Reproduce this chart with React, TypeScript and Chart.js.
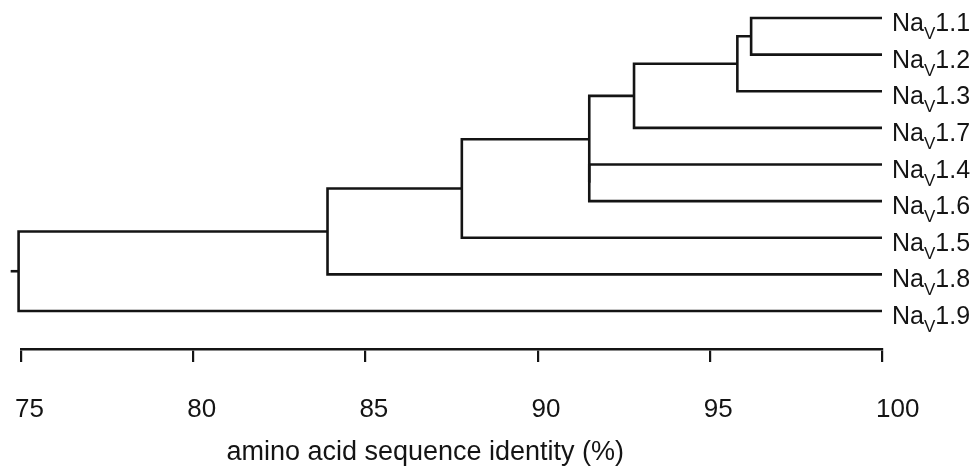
import React, { useEffect, useRef } from "react";
import { Chart, registerables } from "chart.js";

Chart.register(...registerables);

// Leaves, top to bottom
const leafNames = ["1.1", "1.2", "1.3", "1.7", "1.4", "1.6", "1.5", "1.8", "1.9"];
// Merge table (hclust style): negative = leaf (1-based), positive = earlier merge (1-based)
const mergeA = [-1, 1, 2, -5, 3, 5, 6, 7];
const mergeB = [-2, -3, -4, -6, 4, -7, -8, -9];
// Identity (%) at which each merge happens
const mergeHeight = [96.2, 95.8, 92.8, 91.5, 91.5, 87.8, 83.9, 74.93];
const leafIdentity = 100;
const rootStubStart = 74.7;
const axisMin = 75;
const axisMax = 100;
const axisStep = 5;
const axisTitle = "amino acid sequence identity (%)";

const INK = "#141414";
const FONT = "'Liberation Sans', Arial, Helvetica, sans-serif";

function buildDatasets() {
  const mergeY: number[] = [];
  const nodeY = (id: number) => (id < 0 ? -id - 1 : mergeY[id - 1]);
  const nodeX = (id: number) => (id < 0 ? leafIdentity : mergeHeight[id - 1]);
  const sets: any[] = [];
  for (let i = 0; i < mergeA.length; i++) {
    const a = mergeA[i];
    const b = mergeB[i];
    const h = mergeHeight[i];
    const ya = nodeY(a);
    const yb = nodeY(b);
    mergeY.push((ya + yb) / 2);
    sets.push({
      data: [
        { x: nodeX(a), y: ya },
        { x: h, y: ya },
        { x: h, y: yb },
        { x: nodeX(b), y: yb },
      ],
    });
  }
  const rootY = mergeY[mergeY.length - 1];
  sets.push({
    data: [
      { x: rootStubStart, y: rootY },
      { x: mergeHeight[mergeHeight.length - 1], y: rootY },
    ],
  });
  return sets.map((s) => ({
    ...s,
    showLine: true,
    borderColor: INK,
    borderWidth: 2.6,
    pointRadius: 0,
    tension: 0,
    borderJoinStyle: "miter",
    borderCapStyle: "butt",
    clip: false,
  }));
}

const leafLabelPlugin = {
  id: "leafLabels",
  afterDatasetsDraw(chart: any) {
    const { ctx } = chart;
    const xs = chart.scales.x;
    const ys = chart.scales.y;
    const x0 = xs.getPixelForValue(leafIdentity) + 10;
    ctx.save();
    ctx.fillStyle = INK;
    ctx.textAlign = "left";
    ctx.textBaseline = "alphabetic";
    leafNames.forEach((name, i) => {
      const y = ys.getPixelForValue(i);
      let x = x0;
      ctx.font = `25px ${FONT}`;
      ctx.fillText("Na", x, y + 13);
      x += ctx.measureText("Na").width;
      ctx.font = `17px ${FONT}`;
      ctx.fillText("V", x, y + 21);
      x += ctx.measureText("V").width;
      ctx.font = `25px ${FONT}`;
      ctx.fillText(name, x, y + 13);
    });
    ctx.restore();
  },
};

export default function App() {
  const ref = useRef<HTMLCanvasElement | null>(null);
  useEffect(() => {
    if (!ref.current) return;
    const chart = new Chart(ref.current, {
      type: "scatter",
      data: { datasets: buildDatasets() },
      options: {
        animation: false,
        responsive: false,
        maintainAspectRatio: false,
        layout: { padding: { left: 21, right: 96, top: 0, bottom: 0 } },
        plugins: {
          legend: { display: false },
          tooltip: { enabled: false },
        },
        scales: {
          x: {
            type: "linear",
            position: "bottom",
            min: axisMin,
            max: axisMax,
            afterFit: (scale: any) => {
              scale.height = 122;
              scale.paddingLeft = 0;
              scale.paddingRight = 0;
            },
            grid: {
              drawOnChartArea: false,
              drawTicks: true,
              tickLength: 13,
              color: INK,
              lineWidth: 2.2,
            },
            border: { display: true, color: INK, width: 2.6 },
            ticks: {
              stepSize: axisStep,
              color: INK,
              font: { family: FONT, size: 26 },
              padding: 32,
              align: "start",
              labelOffset: -6,
              maxRotation: 0,
            },
            title: {
              display: true,
              text: axisTitle + "       ",
              color: INK,
              font: { family: FONT, size: 27 },
              padding: { top: 0, bottom: 2 },
            },
          },
          y: {
            type: "linear",
            display: false,
            reverse: true,
            min: -0.4915,
            max: 9.0375,
          },
        },
      },
      plugins: [leafLabelPlugin],
    });
    return () => chart.destroy();
  }, []);
  return (
    <div style={{ position: "fixed", left: 0, top: 0, width: 978, height: 471, background: "#fff" }}>
      <canvas ref={ref} width={978} height={471} style={{ width: 978, height: 471, display: "block" }} />
    </div>
  );
}
